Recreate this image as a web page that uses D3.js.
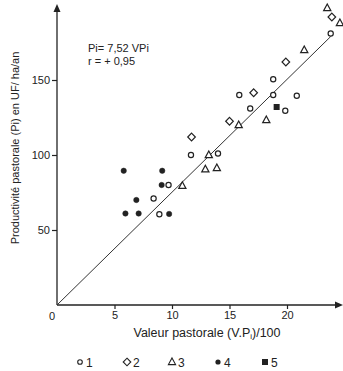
<!DOCTYPE html>
<html>
<head>
<meta charset="utf-8">
<script src="https://cdn.jsdelivr.net/npm/d3@7"></script>
<style>
  body { margin: 0; background: #fff; }
  svg { display: block; font-family: "Liberation Sans", Arial, sans-serif; }
</style>
</head>
<body>
<div class="chartContainer"></div>
<script>
const width = 343,
  height = 371;

// data: [VP/100, Pi]
const group1 = [[9.7, 80], [8.4, 71], [8.9, 60.5], [11.65, 100], [14, 101], [15.85, 140],
  [16.8, 131], [18.8, 140], [20.85, 139.5], [18.8, 150.5], [19.85, 129.5], [23.8, 181]];
const group2 = [[11.7, 112], [15, 122.5], [17.1, 141.5], [19.9, 162], [23.9, 192]];
const group3 = [[10.9, 79.5], [13.2, 100], [12.9, 90.5], [13.9, 91.3], [15.8, 120],
  [18.2, 123.3], [21.5, 170], [23.5, 198], [24.6, 188]];
const group4 = [[5.8, 89.5], [9.15, 89.5], [9.1, 80], [6.9, 70], [5.95, 61], [7.1, 61], [9.75, 60.7]];
const group5 = [[19.1, 132]];
const legendLabels = ["1", "2", "3", "4", "5"];
const xTicks = [5, 10, 15, 20];
const yTicks = [50, 100, 150];
const slope = 7.52;
const lineEnd = 23.8;

const ink = "#222";

const svg = d3
  .select(".chartContainer")
  .append("svg")
  .attr("width", width)
  .attr("height", height);

const xScale = d3.scaleLinear().domain([0, 25]).range([57, 344.5]);
const yScale = d3.scaleLinear().domain([0, 200]).range([305, 5]);

// axes
svg
  .append("g")
  .attr("transform", "translate(0,305)")
  .call(d3.axisBottom(xScale).tickValues(xTicks).tickSize(4).tickPadding(2).tickSizeOuter(0))
  .call((g) => g.select(".domain").remove())
  .call((g) => g.selectAll("line").attr("stroke", ink).attr("stroke-width", 1.2))
  .call((g) => g.selectAll("text").attr("fill", ink).attr("font-size", 11).attr("font-family", null));

svg
  .append("g")
  .attr("transform", "translate(57,0)")
  .call(d3.axisLeft(yScale).tickValues(yTicks).tickSize(5).tickPadding(2).tickSizeOuter(0))
  .call((g) => g.select(".domain").remove())
  .call((g) => g.selectAll("line").attr("stroke", ink).attr("stroke-width", 1.2))
  .call((g) => g.selectAll("text").attr("fill", ink).attr("font-size", 11).attr("font-family", null));

svg
  .append("text")
  .attr("x", 52)
  .attr("y", 320)
  .attr("text-anchor", "middle")
  .attr("font-size", 11)
  .attr("fill", ink)
  .text("0");

// axis lines with arrows
svg
  .append("line")
  .attr("x1", 57).attr("y1", 305)
  .attr("x2", 57).attr("y2", 9)
  .attr("stroke", ink).attr("stroke-width", 1.3);
svg
  .append("path")
  .attr("d", "M57,4 L53.5,12 L60.5,12 Z")
  .attr("fill", ink);
svg
  .append("line")
  .attr("x1", 57).attr("y1", 305)
  .attr("x2", 338).attr("y2", 305)
  .attr("stroke", ink).attr("stroke-width", 1.3);
svg
  .append("path")
  .attr("d", "M343,305 L335,301.5 L335,308.5 Z")
  .attr("fill", ink);

// regression line
svg
  .append("line")
  .attr("x1", xScale(0)).attr("y1", yScale(0))
  .attr("x2", xScale(lineEnd)).attr("y2", yScale(slope * lineEnd))
  .attr("stroke", "#333").attr("stroke-width", 1);

// markers
const triPath = "M0,-4 L3.6,2.6 L-3.6,2.6 Z";
const diaPath = "M0,-3.8 L3.8,0 L0,3.8 L-3.8,0 Z";

function drawPoints(data, kind) {
  const sel = svg.append("g").selectAll("path").data(data).enter();
  if (kind === "circle" || kind === "dot") {
    sel
      .append("circle")
      .attr("cx", (d) => xScale(d[0]))
      .attr("cy", (d) => yScale(d[1]))
      .attr("r", kind === "circle" ? 2.6 : 2.7)
      .attr("fill", kind === "circle" ? "#fff" : ink)
      .attr("stroke", ink)
      .attr("stroke-width", kind === "circle" ? 1.2 : 0.5);
  } else if (kind === "square") {
    sel
      .append("rect")
      .attr("x", (d) => xScale(d[0]) - 3)
      .attr("y", (d) => yScale(d[1]) - 3)
      .attr("width", 6)
      .attr("height", 6)
      .attr("fill", ink);
  } else {
    sel
      .append("path")
      .attr("transform", (d) => `translate(${xScale(d[0])},${yScale(d[1])})`)
      .attr("d", kind === "triangle" ? triPath : diaPath)
      .attr("fill", "#fff")
      .attr("stroke", ink)
      .attr("stroke-width", 1.2);
  }
}

drawPoints(group1, "circle");
drawPoints(group2, "diamond");
drawPoints(group3, "triangle");
drawPoints(group4, "dot");
drawPoints(group5, "square");

// equation
svg
  .append("text")
  .attr("x", 88).attr("y", 52)
  .attr("font-size", 11).attr("fill", ink)
  .text("Pi= 7,52 VPi");
svg
  .append("text")
  .attr("x", 88).attr("y", 65)
  .attr("font-size", 11).attr("fill", ink)
  .text("r = + 0,95");

// axis titles
svg
  .append("text")
  .attr("transform", "translate(19,148) rotate(-90)")
  .attr("text-anchor", "middle")
  .attr("font-size", 11).attr("fill", ink)
  .text("Productivité pastorale (Pi) en UF/ ha/an");

const xTitle = svg
  .append("text")
  .attr("x", 207).attr("y", 337)
  .attr("text-anchor", "middle")
  .attr("font-size", 12.5).attr("fill", ink);
xTitle.append("tspan").text("Valeur pastorale (V.P");
xTitle.append("tspan").attr("font-size", 8).attr("dy", 2).text("i");
xTitle.append("tspan").attr("dy", -2).text(")/100");

// legend
const legendKinds = ["circle", "diamond", "triangle", "dot", "square"];
const legendX = [80, 127, 172, 218, 265];
const leg = svg.append("g");
legendKinds.forEach((k, i) => {
  const cx = legendX[i], cy = 362;
  if (k === "circle") {
    leg.append("circle").attr("cx", cx).attr("cy", cy).attr("r", 2.3)
      .attr("fill", "#fff").attr("stroke", ink).attr("stroke-width", 1.1);
  } else if (k === "dot") {
    leg.append("circle").attr("cx", cx).attr("cy", cy).attr("r", 2.6).attr("fill", ink);
  } else if (k === "square") {
    leg.append("rect").attr("x", cx - 3).attr("y", cy - 3).attr("width", 6).attr("height", 6).attr("fill", ink);
  } else {
    leg.append("path").attr("transform", `translate(${cx},${cy})`)
      .attr("d", k === "triangle" ? triPath : diaPath)
      .attr("fill", "#fff").attr("stroke", ink).attr("stroke-width", 1.1);
  }
  leg.append("text")
    .attr("x", cx + 6).attr("y", cy + 4.5)
    .attr("font-size", 12).attr("fill", ink)
    .text(legendLabels[i]);
});
</script>
</body>
</html>
